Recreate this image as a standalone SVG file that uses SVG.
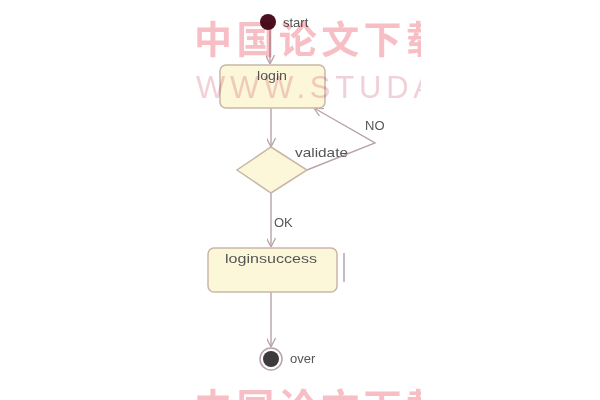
<svg xmlns="http://www.w3.org/2000/svg" width="600" height="400" viewBox="0 0 600 400">
<style>
.box{fill:#fdf7da;stroke:#c9b7a6;stroke-width:1.5}
.lbl{font-family:"Liberation Sans",Arial,sans-serif;font-size:13px;fill:#555}
.edge{fill:none;stroke:#b9a2ab;stroke-width:1.4}
.wm{font-family:"Noto Sans CJK SC","Noto Sans",sans-serif;font-weight:bold;fill:#f4aab2}
.wm2{font-family:"Liberation Sans",Arial,sans-serif;fill:#ecc2cb}
</style>
<defs>
<marker id="arr" viewBox="0 0 10 10" refX="10" refY="5" markerWidth="9" markerHeight="9" orient="auto" markerUnits="userSpaceOnUse">
<path d="M0,0 L10,5 L0,10" fill="none" stroke="#b9a2ab" stroke-width="1.4"/>
</marker>
<clipPath id="wmclip"><rect x="180" y="0" width="241" height="400"/></clipPath>
</defs>
<rect width="600" height="400" fill="#fff"/>
<g id="connectors">
<line class="edge" x1="270" y1="30" x2="270" y2="64" marker-end="url(#arr)"/>
<line class="edge" x1="271" y1="108" x2="271" y2="147" marker-end="url(#arr)"/>
<polyline class="edge" points="307,170 375,143 314,108" marker-end="url(#arr)"/>
<line class="edge" x1="271" y1="193" x2="271" y2="247" marker-end="url(#arr)"/>
<line class="edge" x1="271" y1="292" x2="271" y2="347" marker-end="url(#arr)"/>
<text class="lbl" x="365" y="130">NO</text>
<text class="lbl" x="295" y="157" textLength="53" lengthAdjust="spacingAndGlyphs">validate</text>
<text class="lbl" x="274" y="227">OK</text>
</g>
<g id="start">
<circle cx="268" cy="22" r="8" fill="#4a1020"/>
<text class="lbl" x="283" y="27">start</text>
</g>
<g id="login">
<rect class="box" x="220" y="65" width="105" height="43" rx="6"/>
<text class="lbl" x="257" y="80" textLength="30" lengthAdjust="spacingAndGlyphs">login</text>
</g>
<g id="validate">
<polygon class="box" points="271,147 307,170 271,193 237,170"/>
</g>
<g id="loginsuccess">
<rect class="box" x="208" y="248" width="129" height="44" rx="6"/>
<text class="lbl" x="225" y="263" textLength="92" lengthAdjust="spacingAndGlyphs">loginsuccess</text>
<line x1="344" y1="253" x2="344" y2="282" stroke="#b5a6b3" stroke-width="1.5"/>
</g>
<g id="over">
<circle cx="271" cy="359" r="11" fill="#fff" stroke="#b9a2ab" stroke-width="1.5"/>
<circle cx="271" cy="359" r="8" fill="#3c3a3c"/>
<text class="lbl" x="290" y="363">over</text>
</g>
<g id="watermark" clip-path="url(#wmclip)" style="mix-blend-mode:multiply" opacity="0.75">
<text class="wm" x="194" y="53" font-size="38" letter-spacing="4.4">中国论文下载</text>
<text class="wm2" x="196" y="98" font-size="31" textLength="238" lengthAdjust="spacing">WWW.STUDA</text>
<text class="wm" x="194" y="421" font-size="38" letter-spacing="4.4">中国论文下载</text>
</g>
</svg>
